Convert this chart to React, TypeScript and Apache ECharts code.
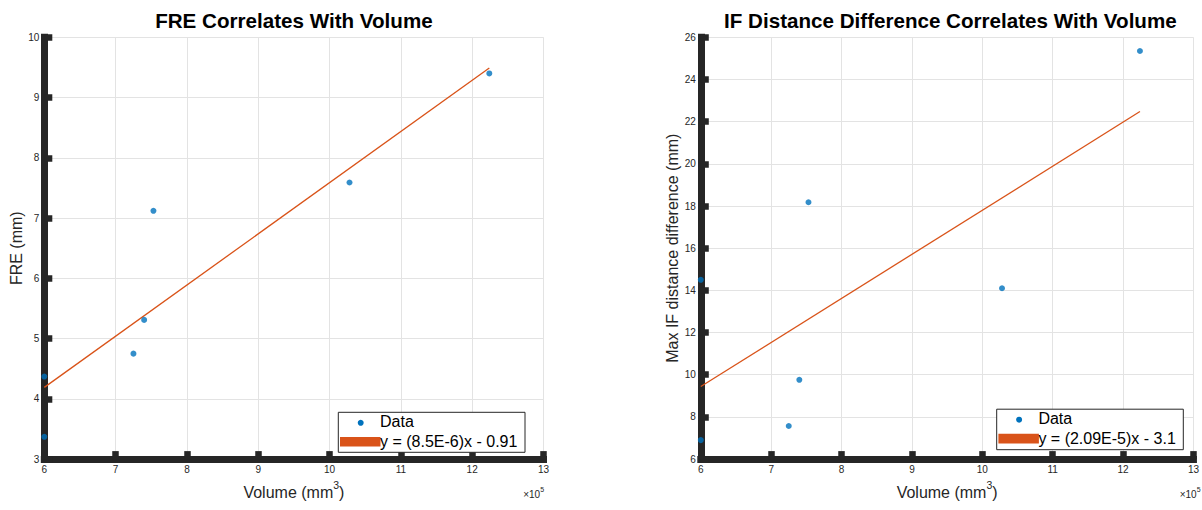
import React, { useEffect, useRef } from "react";
import * as echarts from "echarts";

// ---- data ----
const volumes = [600000, 600000, 725000, 740000, 753000, 1028000, 1224000];
const freValues = [4.37, 3.37, 4.75, 5.31, 7.12, 7.59, 9.4];
const ifDiffValues = [14.5, 6.9, 7.57, 9.76, 18.18, 14.1, 25.35];
const freFit = [
  [600000, 4.19],
  [1224000, 9.49],
];
const ifFit = [
  [600000, 9.44],
  [1224000, 22.48],
];
const titles = [
  "FRE Correlates With Volume",
  "IF Distance Difference Correlates With Volume",
];
const yNames = ["FRE (mm)", "Max IF distance difference (mm)"];
const legendLabels = ["Data", "y = (8.5E-6)x - 0.91", "y = (2.09E-5)x - 3.1"];

const FONT = '"Liberation Sans", Helvetica, Arial, sans-serif';
const BLUE = "#0072BD";
const ORANGE = "#D95319";
const AX = "#262626";
const GRIDC = "#e3e3e3";

const grids = [
  { left: 44.3, top: 37.3, width: 499.2, height: 433 },
  { left: 700.8, top: 37.3, width: 499.2, height: 433 },
];

function xAxisFor(i: number) {
  return {
    gridIndex: i,
    type: "value",
    min: 600000,
    max: 1300000,
    interval: 100000,
    name: "Volume (mm{sup|3})",
    nameLocation: "middle",
    nameGap: 17,
    nameTextStyle: {
      fontSize: 16,
      color: AX,
      fontFamily: FONT,
      lineHeight: 26,
      verticalAlign: "top",
      rich: {
        sup: { fontSize: 10.5, lineHeight: 10, verticalAlign: "top", color: AX, fontFamily: FONT },
      },
    },
    axisLine: { show: true, onZero: false, lineStyle: { color: AX, width: 7, cap: "square" } },
    axisTick: { show: true, inside: true, length: 8, lineStyle: { color: AX, width: 6.5 } },
    axisLabel: {
      fontSize: 10,
      color: AX,
      fontFamily: FONT,
      margin: 5,
      formatter: (v: number) => String(Math.round(v / 100000)),
    },
    splitLine: { show: true, lineStyle: { color: GRIDC, width: 1 } },
  };
}

function yAxisFor(i: number, min: number, max: number, interval: number) {
  return {
    gridIndex: i,
    type: "value",
    min,
    max,
    interval,
    name: yNames[i],
    nameLocation: "middle",
    nameGap: 18,
    nameTextStyle: { fontSize: 16, color: AX, fontFamily: FONT },
    axisLine: { show: true, onZero: false, lineStyle: { color: AX, width: 7, cap: "square" } },
    axisTick: { show: true, inside: true, length: 8, lineStyle: { color: AX, width: 6.5 } },
    axisLabel: { fontSize: 10, color: AX, fontFamily: FONT, margin: 5 },
    splitLine: { show: true, lineStyle: { color: GRIDC, width: 1 } },
  };
}

function legendGraphics(
  box: { x: number; y: number; w: number; h: number },
  eq: string
) {
  return [
    {
      type: "rect",
      z: 100,
      shape: { x: box.x, y: box.y, width: box.w, height: box.h },
      style: { fill: "#ffffff", stroke: AX, lineWidth: 1 },
    },
    {
      type: "circle",
      z: 101,
      shape: { cx: box.x + 22.4, cy: box.y + 10.5, r: 3 },
      style: { fill: BLUE },
    },
    {
      type: "text",
      z: 101,
      x: box.x + 41.7,
      y: box.y + 9.6,
      style: {
        text: legendLabels[0],
        fontSize: 16,
        fontFamily: FONT,
        fill: "#000",
        align: "left",
        verticalAlign: "middle",
      },
    },
    {
      type: "rect",
      z: 101,
      shape: { x: box.x + 1.7, y: box.y + 24.6, width: 40.5, height: 9.6 },
      style: { fill: ORANGE },
    },
    {
      type: "text",
      z: 102,
      x: box.x + 41.7,
      y: box.y + 29.4,
      style: {
        text: eq,
        fontSize: 16,
        fontFamily: FONT,
        fill: "#000",
        align: "left",
        verticalAlign: "middle",
      },
    },
  ];
}

function multiplierGraphics(rightEdge: number) {
  return [
    {
      type: "text",
      x: rightEdge - 3.4,
      y: 494.7,
      style: {
        text: "×10",
        fontSize: 10,
        fontFamily: FONT,
        fill: AX,
        align: "right",
        verticalAlign: "middle",
      },
    },
    {
      type: "text",
      x: rightEdge - 3.2,
      y: 489.8,
      style: {
        text: "5",
        fontSize: 7,
        fontFamily: FONT,
        fill: AX,
        align: "left",
        verticalAlign: "middle",
      },
    },
  ];
}

function titleGraphic(i: number) {
  const g = grids[i];
  return {
    type: "text",
    x: g.left + g.width / 2,
    y: 20.3,
    style: {
      text: titles[i],
      fontSize: 20.6,
      fontWeight: "bold",
      fontFamily: FONT,
      fill: "#000",
      align: "center",
      verticalAlign: "middle",
    },
  };
}

export default function App() {
  const ref = useRef<HTMLDivElement>(null);
  useEffect(() => {
    if (!ref.current) return;
    const chart = echarts.init(ref.current, null, { renderer: "svg" });
    const option: any = {
      animation: false,
      backgroundColor: "#ffffff",
      textStyle: { fontFamily: FONT },
      grid: grids.map((g) => ({ ...g, containLabel: false })),
      xAxis: [xAxisFor(0), xAxisFor(1)],
      yAxis: [yAxisFor(0, 3, 10, 1), yAxisFor(1, 6, 26, 2)],
      series: [
        {
          type: "line",
          xAxisIndex: 0,
          yAxisIndex: 0,
          data: freFit,
          showSymbol: false,
          symbol: "none",
          lineStyle: { color: ORANGE, width: 1.3 },
          z: 3,
        },
        {
          type: "scatter",
          xAxisIndex: 0,
          yAxisIndex: 0,
          data: volumes.map((v, i) => [v, freValues[i]]),
          symbol: "circle",
          symbolSize: 6,
          itemStyle: { color: BLUE },
          z: 4,
        },
        {
          type: "line",
          xAxisIndex: 1,
          yAxisIndex: 1,
          data: ifFit,
          showSymbol: false,
          symbol: "none",
          lineStyle: { color: ORANGE, width: 1.3 },
          z: 3,
        },
        {
          type: "scatter",
          xAxisIndex: 1,
          yAxisIndex: 1,
          data: volumes.map((v, i) => [v, ifDiffValues[i]]),
          symbol: "circle",
          symbolSize: 6,
          itemStyle: { color: BLUE },
          z: 4,
        },
      ],
      graphic: [
        titleGraphic(0),
        titleGraphic(1),
        ...legendGraphics({ x: 338.3, y: 412.3, w: 186.7, h: 40 }, legendLabels[1]),
        ...legendGraphics({ x: 996.7, y: 409.2, w: 186.6, h: 40.5 }, legendLabels[2]),
        ...multiplierGraphics(grids[0].left + grids[0].width),
        ...multiplierGraphics(grids[1].left + grids[1].width),
      ],
    };
    chart.setOption(option);
    return () => chart.dispose();
  }, []);
  return (
    <div
      ref={ref}
      style={{ position: "fixed", left: 0, top: 0, width: 1202, height: 510, background: "#fff" }}
    />
  );
}
